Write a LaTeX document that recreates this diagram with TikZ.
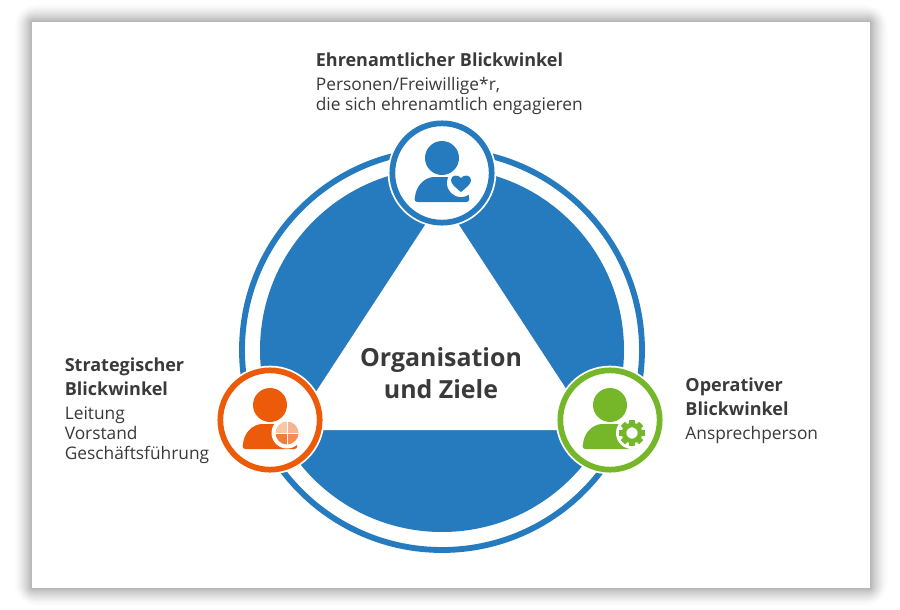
\documentclass[tikz,border=0pt]{standalone}
\usepackage{fontspec}
\setmainfont{Open Sans}
\usetikzlibrary{positioning}
\definecolor{ringblue}{HTML}{267BBF}
\definecolor{strategorange}{HTML}{EC5B0A}
\definecolor{operatgreen}{HTML}{76B729}
\definecolor{textgrey}{HTML}{3A3A3A}
\newcommand{\headline}[1]{{\fontsize{13.5pt}{15pt}\selectfont\bfseries #1}}
\tikzstyle{viewpoint} = [circle, minimum size=74.5pt, inner sep=0pt, fill=white, line width=4.3pt, preaction={draw=white, line width=7pt}]
\tikzstyle{caption} = [inner sep=0pt, align=left, text=textgrey, font=\fontsize{13pt}{15pt}\selectfont]
\tikzstyle{center text} = [inner sep=0pt, align=center, text=textgrey, font=\fontsize{18.7pt}{23.5pt}\selectfont\bfseries]
\tikzset{
  person/.pic={
    \fill (0,-15) circle (17);
    \fill (-24,29) .. controls (-27,29) and (-28,27) .. (-27,24) .. controls (-26,13) and (-18,5) .. (-9,4) -- (9,4) .. controls (18,5) and (26,13) .. (27,24) -- (27,27) .. controls (27,28) and (26,29) .. (24,29) -- cycle;
  }
}

\begin{document}
\begin{tikzpicture}[x=0.75pt, y=-0.75pt]
\useasboundingbox (0,0) rectangle (900,610);

% Card
\foreach \s in {18,17,...,1} {
  \pgfmathsetmacro{\shade}{30*(1-\s/19)^1.5}
  \fill [black!\shade, rounded corners=\s] ({32-\s},{22-\s}) rectangle ({870+\s},{588+\s});
}
\fill [white] (32,22) rectangle (870,588);

% Ring and triangle
\node (ring) [circle, minimum size=300pt, inner sep=0pt, draw=ringblue, line width=4.4pt] at (442,350) {};
\node (disc) [circle, minimum size=273pt, inner sep=0pt, fill=ringblue] at (442,350) {};
\fill [white] (442,199) -- (593,430) -- (291,430) -- cycle;

% Viewpoints
\node (ehrenamt) [viewpoint, draw=ringblue] at (442,173) {};
\node (strategie) [viewpoint, draw=strategorange] at (270,420) {};
\node (operativ) [viewpoint, draw=operatgreen] at (610,420) {};

% Icons
\pic [ringblue] at (ehrenamt) {person};
\fill [white] (461,183) circle (14);
\fill [ringblue] (461,192) .. controls (455,187) and (451,184) .. (451,180) .. controls (451,175) and (458,174) .. (461,178) .. controls (464,174) and (471,175) .. (471,180) .. controls (471,184) and (467,187) .. (461,192) -- cycle;

\pic [strategorange] at (strategie) {person};
\fill [white] (287,433) circle (15.5);
\fill [strategorange!80] (287,433) -- (275.5,433) arc (180:90:11.5) -- cycle;
\fill [strategorange!70] (287,433) -- (287,444.5) arc (90:0:11.5) -- cycle;
\fill [strategorange!45] (287,433) -- (298.5,433) arc (0:-90:11.5) -- cycle;
\fill [strategorange!35] (287,433) -- (287,421.5) arc (-90:-180:11.5) -- cycle;
\draw [white, line width=0.6pt] (275,433) -- (299,433) (287,421) -- (287,445);

\pic [operatgreen] at (operativ) {person};
\fill [white] (632,433) circle (16);
\foreach \a in {0,45,...,315}
  \fill [operatgreen, rotate around={\a:(632,433)}] (629,420) rectangle (635,426);
\draw [operatgreen, line width=3.4pt] (632,433) circle (8);

% Labels
\node (mitte) [center text] at (441,373) {Organisation\\und Ziele};
\node (ehrenamt-text) [caption, above=4.5pt of ehrenamt, xshift=5.5pt] {\headline{Ehrenamtlicher Blickwinkel}\\[3pt]Personen/Freiwillige*r,\\die sich ehrenamtlich engagieren};
\node (strategie-text) [caption, left=6pt of strategie, yshift=7pt] {\headline{Strategischer}\\[3pt]\headline{Blickwinkel}\\[3pt]Leitung\\Vorstand\\Geschäftsführung};
\node (operativ-text) [caption, right=17pt of operativ, yshift=7pt] {\headline{Operativer}\\[3pt]\headline{Blickwinkel}\\[3pt]Ansprechperson};

\end{tikzpicture}
\end{document}
